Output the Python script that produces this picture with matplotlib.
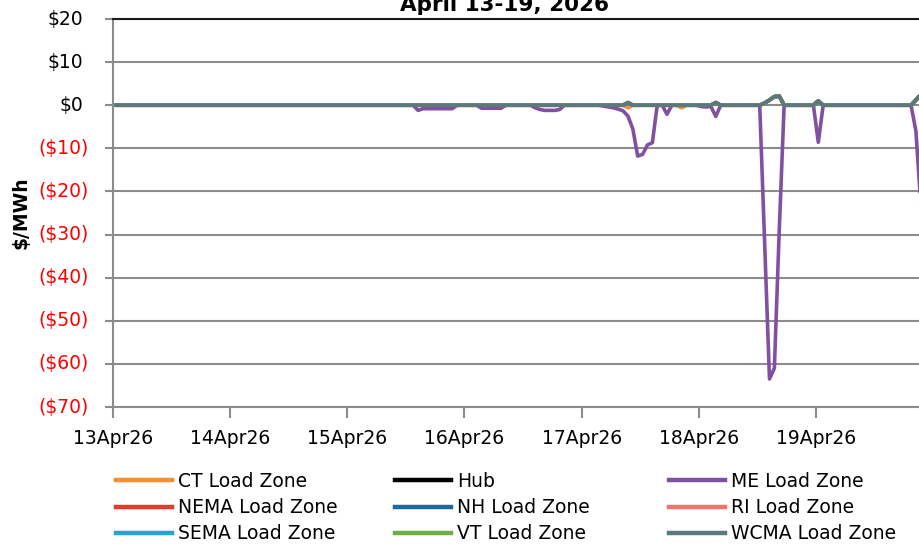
import matplotlib
matplotlib.use("Agg")
import matplotlib.pyplot as plt
import matplotlib.dates as mdates
import matplotlib.transforms as mtransforms
from matplotlib.lines import Line2D
import datetime as dt

plt.rcParams['font.family'] = ['DejaVu Sans']

TITLE = "April 13-19, 2026"
Y_LABEL = "$/MWh"
Y_TICKS = [-70, -60, -50, -40, -30, -20, -10, 0, 10, 20]
START = dt.datetime(2026, 4, 13)
N_HOURS = 168
N_DAY_TICKS = 7

SERIES_NAMES = ["CT Load Zone", "Hub", "ME Load Zone",
                "NEMA Load Zone", "NH Load Zone", "RI Load Zone",
                "SEMA Load Zone", "VT Load Zone", "WCMA Load Zone"]
SERIES_COLORS = ["#F68D2E", "#000000", "#8150A2",
                 "#E8392B", "#21679F", "#F2736B",
                 "#2B9FD9", "#6CAF45", "#5E777B"]

# hourly values ($/MWh), one row per day (13Apr .. 19Apr)
CT = [
    0, 0, 0, 0, 0, 0, 0, 0, 0, 0, 0, 0, 0, 0, 0, 0, 0, 0, 0, 0, 0, 0, 0, 0,
    0, 0, 0, 0, 0, 0, 0, 0, 0, 0, 0, 0, 0, 0, 0, 0, 0, 0, 0, 0, 0, 0, 0, 0,
    0, 0, 0, 0, 0, 0, 0, 0, 0, 0, 0, 0, 0, 0, 0, 0, 0, 0, 0, 0, 0, 0, 0, 0,
    0, 0, 0, 0, 0, 0, 0, 0, 0, 0, 0, 0, 0, 0, 0, 0, 0, 0, 0, 0, 0, 0, 0, 0,
    0, 0, 0, 0, 0, 0, 0, 0, 0, -0.6, 0, 0, 0, 0, 0, 0, 0, 0, 0, 0, -0.6, 0, 0, 0,
    0, 0, 0, 0.6, 0, 0, 0, 0, 0, 0, 0, 0, 0, 0.5, 1.2, 2.0, 2.1, 0, 0, 0, 0, 0, 0, 0,
    1.0, 0, 0, 0, 0, 0, 0, 0, 0, 0, 0, 0, 0, 0, 0, 0, 0, 0, 0, 0, 1.2, 2.5, 3.0, 2.5,
]
HUB = [
    0, 0, 0, 0, 0, 0, 0, 0, 0, 0, 0, 0, 0, 0, 0, 0, 0, 0, 0, 0, 0, 0, 0, 0,
    0, 0, 0, 0, 0, 0, 0, 0, 0, 0, 0, 0, 0, 0, 0, 0, 0, 0, 0, 0, 0, 0, 0, 0,
    0, 0, 0, 0, 0, 0, 0, 0, 0, 0, 0, 0, 0, 0, 0, 0, 0, 0, 0, 0, 0, 0, 0, 0,
    0, 0, 0, 0, 0, 0, 0, 0, 0, 0, 0, 0, 0, 0, 0, 0, 0, 0, 0, 0, 0, 0, 0, 0,
    0, 0, 0, 0, 0, 0, 0, 0, 0, 0.6, 0, 0, 0, 0, 0, 0, 0, 0, 0, 0, 0, 0, 0, 0,
    0, 0, 0, 0.6, 0, 0, 0, 0, 0, 0, 0, 0, 0, 0.5, 1.2, 2.0, 2.1, 0, 0, 0, 0, 0, 0, 0,
    1.0, 0, 0, 0, 0, 0, 0, 0, 0, 0, 0, 0, 0, 0, 0, 0, 0, 0, 0, 0, 1.2, 2.5, 3.0, 2.5,
]
ME = [
    0, 0, 0, 0, 0, 0, 0, 0, 0, 0, 0, 0, 0, 0, 0, 0, 0, 0, 0, 0, 0, 0, 0, 0,
    0, 0, 0, 0, 0, 0, 0, 0, 0, 0, 0, 0, 0, 0, 0, 0, 0, 0, 0, 0, 0, 0, 0, 0,
    0, 0, 0, 0, 0, 0, 0, 0, 0, 0, 0, 0, 0, 0, -1.2, -0.8, -0.8, -0.8, -0.8, -0.8, -0.8, -0.8, 0, 0,
    0, 0, 0, -0.7, -0.7, -0.7, -0.7, -0.7, 0, 0, 0, 0, 0, 0, -0.6, -1.0, -1.2, -1.2, -1.2, -1.0, 0, 0, 0, 0,
    0, 0, 0, 0, -0.2, -0.4, -0.6, -0.9, -1.3, -2.5, -5.5, -11.8, -11.4, -9.2, -8.7, 0, 0, -2.1, 0, 0, 0, 0, 0, 0,
    -0.3, -0.4, -0.3, -2.6, 0, 0, 0, 0, 0, 0, 0, 0, 0, -32.0, -63.5, -61.0, -29.0, 0, 0, 0, 0, 0, 0, 0,
    -8.6, 0, 0, 0, 0, 0, 0, 0, 0, 0, 0, 0, 0, 0, 0, 0, 0, 0, 0, 0, -6.0, -23.0, -30.0, -15.0,
]
NEMA = [
    0, 0, 0, 0, 0, 0, 0, 0, 0, 0, 0, 0, 0, 0, 0, 0, 0, 0, 0, 0, 0, 0, 0, 0,
    0, 0, 0, 0, 0, 0, 0, 0, 0, 0, 0, 0, 0, 0, 0, 0, 0, 0, 0, 0, 0, 0, 0, 0,
    0, 0, 0, 0, 0, 0, 0, 0, 0, 0, 0, 0, 0, 0, 0, 0, 0, 0, 0, 0, 0, 0, 0, 0,
    0, 0, 0, 0, 0, 0, 0, 0, 0, 0, 0, 0, 0, 0, 0, 0, 0, 0, 0, 0, 0, 0, 0, 0,
    0, 0, 0, 0, 0, 0, 0, 0, 0, 0.6, 0, 0, 0, 0, 0, 0, 0, 0, 0, 0, 0, 0, 0, 0,
    0, 0, 0, 0.6, 0, 0, 0, 0, 0, 0, 0, 0, 0, 0.5, 1.2, 2.0, 2.1, 0, 0, 0, 0, 0, 0, 0,
    1.0, 0, 0, 0, 0, 0, 0, 0, 0, 0, 0, 0, 0, 0, 0, 0, 0, 0, 0, 0, 1.2, 2.5, 3.0, 2.5,
]
NH = [
    0, 0, 0, 0, 0, 0, 0, 0, 0, 0, 0, 0, 0, 0, 0, 0, 0, 0, 0, 0, 0, 0, 0, 0,
    0, 0, 0, 0, 0, 0, 0, 0, 0, 0, 0, 0, 0, 0, 0, 0, 0, 0, 0, 0, 0, 0, 0, 0,
    0, 0, 0, 0, 0, 0, 0, 0, 0, 0, 0, 0, 0, 0, 0, 0, 0, 0, 0, 0, 0, 0, 0, 0,
    0, 0, 0, 0, 0, 0, 0, 0, 0, 0, 0, 0, 0, 0, 0, 0, 0, 0, 0, 0, 0, 0, 0, 0,
    0, 0, 0, 0, 0, 0, 0, 0, 0, 0.6, 0, 0, 0, 0, 0, 0, 0, 0, 0, 0, 0, 0, 0, 0,
    0, 0, 0, 0.6, 0, 0, 0, 0, 0, 0, 0, 0, 0, 0.5, 1.2, 2.0, 2.1, 0, 0, 0, 0, 0, 0, 0,
    1.0, 0, 0, 0, 0, 0, 0, 0, 0, 0, 0, 0, 0, 0, 0, 0, 0, 0, 0, 0, 1.2, 2.5, 3.0, 2.5,
]
RI = [
    0, 0, 0, 0, 0, 0, 0, 0, 0, 0, 0, 0, 0, 0, 0, 0, 0, 0, 0, 0, 0, 0, 0, 0,
    0, 0, 0, 0, 0, 0, 0, 0, 0, 0, 0, 0, 0, 0, 0, 0, 0, 0, 0, 0, 0, 0, 0, 0,
    0, 0, 0, 0, 0, 0, 0, 0, 0, 0, 0, 0, 0, 0, 0, 0, 0, 0, 0, 0, 0, 0, 0, 0,
    0, 0, 0, 0, 0, 0, 0, 0, 0, 0, 0, 0, 0, 0, 0, 0, 0, 0, 0, 0, 0, 0, 0, 0,
    0, 0, 0, 0, 0, 0, 0, 0, 0, 0.6, 0, 0, 0, 0, 0, 0, 0, 0, 0, 0, 0, 0, 0, 0,
    0, 0, 0, 0.6, 0, 0, 0, 0, 0, 0, 0, 0, 0, 0.5, 1.2, 2.0, 2.1, 0, 0, 0, 0, 0, 0, 0,
    1.0, 0, 0, 0, 0, 0, 0, 0, 0, 0, 0, 0, 0, 0, 0, 0, 0, 0, 0, 0, 1.2, 2.5, 3.0, 2.5,
]
SEMA = [
    0, 0, 0, 0, 0, 0, 0, 0, 0, 0, 0, 0, 0, 0, 0, 0, 0, 0, 0, 0, 0, 0, 0, 0,
    0, 0, 0, 0, 0, 0, 0, 0, 0, 0, 0, 0, 0, 0, 0, 0, 0, 0, 0, 0, 0, 0, 0, 0,
    0, 0, 0, 0, 0, 0, 0, 0, 0, 0, 0, 0, 0, 0, 0, 0, 0, 0, 0, 0, 0, 0, 0, 0,
    0, 0, 0, 0, 0, 0, 0, 0, 0, 0, 0, 0, 0, 0, 0, 0, 0, 0, 0, 0, 0, 0, 0, 0,
    0, 0, 0, 0, 0, 0, 0, 0, 0, 0.6, 0, 0, 0, 0, 0, 0, 0, 0, 0, 0, 0, 0, 0, 0,
    0, 0, 0, 0.6, 0, 0, 0, 0, 0, 0, 0, 0, 0, 0.5, 1.2, 2.0, 2.1, 0, 0, 0, 0, 0, 0, 0,
    1.0, 0, 0, 0, 0, 0, 0, 0, 0, 0, 0, 0, 0, 0, 0, 0, 0, 0, 0, 0, 1.2, 2.5, 3.0, 2.5,
]
VT = [
    0, 0, 0, 0, 0, 0, 0, 0, 0, 0, 0, 0, 0, 0, 0, 0, 0, 0, 0, 0, 0, 0, 0, 0,
    0, 0, 0, 0, 0, 0, 0, 0, 0, 0, 0, 0, 0, 0, 0, 0, 0, 0, 0, 0, 0, 0, 0, 0,
    0, 0, 0, 0, 0, 0, 0, 0, 0, 0, 0, 0, 0, 0, 0, 0, 0, 0, 0, 0, 0, 0, 0, 0,
    0, 0, 0, 0, 0, 0, 0, 0, 0, 0, 0, 0, 0, 0, 0, 0, 0, 0, 0, 0, 0, 0, 0, 0,
    0, 0, 0, 0, 0, 0, 0, 0, 0, 0.6, 0, 0, 0, 0, 0, 0, 0, 0, 0, 0, 0, 0, 0, 0,
    0, 0, 0, 0.6, 0, 0, 0, 0, 0, 0, 0, 0, 0, 0.5, 1.2, 2.0, 2.1, 0, 0, 0, 0, 0, 0, 0,
    1.0, 0, 0, 0, 0, 0, 0, 0, 0, 0, 0, 0, 0, 0, 0, 0, 0, 0, 0, 0, 1.2, 2.5, 3.0, 2.5,
]
WCMA = [
    0, 0, 0, 0, 0, 0, 0, 0, 0, 0, 0, 0, 0, 0, 0, 0, 0, 0, 0, 0, 0, 0, 0, 0,
    0, 0, 0, 0, 0, 0, 0, 0, 0, 0, 0, 0, 0, 0, 0, 0, 0, 0, 0, 0, 0, 0, 0, 0,
    0, 0, 0, 0, 0, 0, 0, 0, 0, 0, 0, 0, 0, 0, 0, 0, 0, 0, 0, 0, 0, 0, 0, 0,
    0, 0, 0, 0, 0, 0, 0, 0, 0, 0, 0, 0, 0, 0, 0, 0, 0, 0, 0, 0, 0, 0, 0, 0,
    0, 0, 0, 0, 0, 0, 0, 0, 0, 0.6, 0, 0, 0, 0, 0, 0, 0, 0, 0, 0, 0, 0, 0, 0,
    0, 0, 0, 0.6, 0, 0, 0, 0, 0, 0, 0, 0, 0, 0.5, 1.2, 2.0, 2.1, 0, 0, 0, 0, 0, 0, 0,
    1.0, 0, 0, 0, 0, 0, 0, 0, 0, 0, 0, 0, 0, 0, 0, 0, 0, 0, 0, 0, 1.2, 2.5, 3.0, 2.5,
]
SERIES_VALUES = [CT, HUB, ME, NEMA, NH, RI, SEMA, VT, WCMA]

# hourly timestamps (mid-hour)
times = [START + dt.timedelta(hours=i + 0.5) for i in range(N_HOURS)]
day_ticks = [START + dt.timedelta(days=d) for d in range(N_DAY_TICKS)]

W, H = 919, 544
fig = plt.figure(figsize=(W / 100, H / 100), dpi=100)
ax = fig.add_axes([113 / W, 137 / H, 820 / W, 388 / H])

for name, vals, col in zip(SERIES_NAMES, SERIES_VALUES, SERIES_COLORS):
    ax.plot(times, vals, color=col, lw=2.6, label=name,
            solid_joinstyle='round', solid_capstyle='round')

ax.set_xlim(START, START + dt.timedelta(days=7))
ax.set_ylim(Y_TICKS[0], Y_TICKS[-1])
ax.set_yticks(Y_TICKS)
ax.yaxis.grid(True, color='#8c8c8c', lw=1.5)
ax.set_axisbelow(True)

grey = '#8c8c8c'
for s in ['left', 'bottom']:
    ax.spines[s].set_color(grey)
    ax.spines[s].set_linewidth(1.5)
ax.spines['top'].set_color('#1a1a1a')
ax.spines['top'].set_linewidth(1.5)
ax.spines['right'].set_visible(False)

ax.tick_params(axis='y', labelleft=False, length=6, width=1.5, color=grey)
ax.tick_params(axis='x', length=8, width=1.5, color=grey, labelsize=13.5, pad=8)
ax.set_xticks(day_ticks)
ax.xaxis.set_major_formatter(mdates.DateFormatter('%d%b%y'))

tr = mtransforms.offset_copy(ax.get_yaxis_transform(), fig=fig, x=-24, y=0, units='dots')
tr_pos = mtransforms.offset_copy(ax.get_yaxis_transform(), fig=fig, x=-30, y=0, units='dots')
for v in Y_TICKS:
    if v >= 0:
        ax.text(0, v, f"${v}", transform=tr_pos, ha='right', va='center',
                fontsize=13.5, color='black', parse_math=False)
    else:
        ax.text(0, v, f"(${-v})", transform=tr, ha='right', va='center',
                fontsize=13.5, color='#FF0000', parse_math=False)

fig.text(21 / W, 1 - 213 / H, Y_LABEL, rotation=90, ha='center', va='center',
         fontsize=13.5, fontweight='bold', parse_math=False)
fig.text(505 / W, 1 - 11 / H, TITLE, ha='center', va='baseline',
         fontsize=15.5, fontweight='bold')

col_x = [116, 395, 669]
for c in range(3):
    idx = [c, c + 3, c + 6]
    handles = [Line2D([], [], color=SERIES_COLORS[i], lw=3.2) for i in idx]
    labels = [SERIES_NAMES[i] for i in idx]
    fig.legend(handles, labels, loc='upper left',
               bbox_to_anchor=(col_x[c] / W, 1 - 472 / H),
               frameon=False, borderpad=0, borderaxespad=0,
               handlelength=3.0, handletextpad=0.3, labelspacing=0.38,
               fontsize=13.5)

fig.savefig('out.png', dpi=100)
